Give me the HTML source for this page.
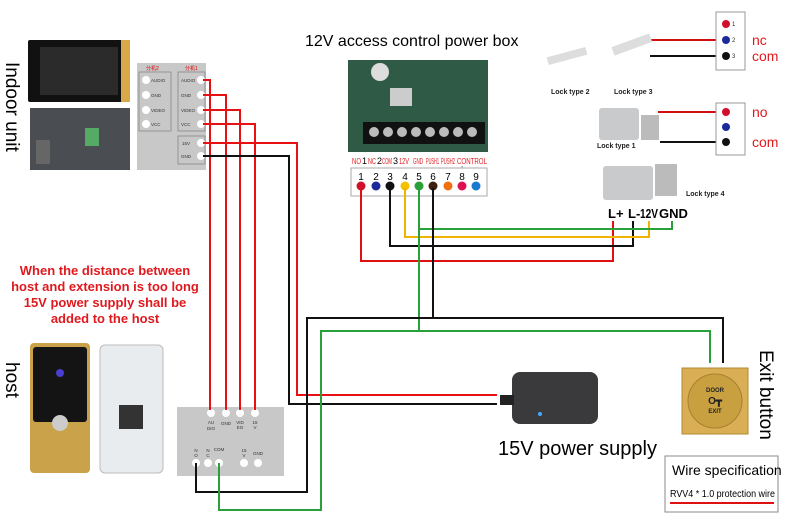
<!DOCTYPE html>
<html><head><meta charset="utf-8"><style>
html,body{margin:0;padding:0;background:#fff;}
svg{display:block;font-family:"Liberation Sans",sans-serif;}
</style></head><body>
<svg width="790" height="532" viewBox="0 0 790 532" xmlns="http://www.w3.org/2000/svg">
<rect width="790" height="532" fill="#fff"/>
<!-- Indoor unit -->
<text transform="translate(6,62) rotate(90)" font-size="19" fill="#000">Indoor unit</text>
<rect x="28" y="40" width="102" height="62" rx="2" fill="#111"/>
<rect x="40" y="47" width="78" height="48" fill="#2b2b2b"/>
<rect x="121" y="40" width="9" height="62" fill="#d9a84a"/>
<rect x="30" y="108" width="100" height="62" fill="#4a4d52"/>
<rect x="36" y="140" width="14" height="24" fill="#666"/>
<rect x="85" y="128" width="14" height="18" fill="#5a6"/>
<!-- indoor panel -->
<rect x="137" y="63" width="69" height="107" fill="#c8c8c8"/>
<rect x="139" y="72" width="32" height="59" fill="none" stroke="#888" stroke-width="0.8"/>
<rect x="178" y="72" width="27" height="59" fill="none" stroke="#888" stroke-width="0.8"/>
<rect x="178" y="136" width="27" height="28" fill="none" stroke="#888" stroke-width="0.8"/>
<text x="146" y="70" font-size="5" fill="#d00">分机2</text><text x="185" y="70" font-size="5" fill="#d00">分机1</text>
<g fill="#fff"><circle cx="146" cy="80" r="4"/><circle cx="146" cy="95" r="4"/><circle cx="146" cy="110" r="4"/><circle cx="146" cy="124" r="4"/>
<circle cx="201" cy="80" r="4"/><circle cx="201" cy="95" r="4"/><circle cx="201" cy="110" r="4"/><circle cx="201" cy="124" r="4"/><circle cx="201" cy="143" r="4"/><circle cx="201" cy="156" r="4"/></g>
<g font-size="4.5" fill="#333"><text x="151" y="82">AUDIO</text><text x="151" y="97">GND</text><text x="151" y="112">VIDEO</text><text x="151" y="126">VCC</text>
<text x="181" y="82">AUDIO</text><text x="181" y="97">GND</text><text x="181" y="112">VIDEO</text><text x="181" y="126">VCC</text><text x="182" y="145">15V</text><text x="181" y="158">GND</text></g>
<!-- red note -->
<g font-size="13" fill="#e0191e" text-anchor="middle" font-weight="bold"><text x="105" y="275">When the distance between</text><text x="105" y="291">host and extension is too long</text><text x="105" y="307">15V power supply shall be</text><text x="105" y="323">added to the host</text></g>
<!-- host -->
<text transform="translate(6,362) rotate(90)" font-size="19" fill="#000">host</text>
<rect x="30" y="343" width="60" height="130" rx="4" fill="#c9a24a"/>
<rect x="33" y="347" width="54" height="75" rx="3" fill="#141414"/>
<circle cx="60" cy="373" r="4" fill="#4a3fd0"/>
<circle cx="60" cy="423" r="8" fill="#ccc"/>
<rect x="100" y="345" width="63" height="128" rx="5" fill="#e8ecef" stroke="#bbb"/>
<rect x="119" y="405" width="24" height="24" fill="#333"/>
<!-- host panel -->
<rect x="177" y="407" width="107" height="69" fill="#c8c8c8"/>
<g fill="#fff"><circle cx="211" cy="413" r="4"/><circle cx="226" cy="413" r="4"/><circle cx="240" cy="413" r="4"/><circle cx="255" cy="413" r="4"/>
<circle cx="196" cy="463" r="4"/><circle cx="208" cy="463" r="4"/><circle cx="219" cy="463" r="4"/><circle cx="244" cy="463" r="4"/><circle cx="258" cy="463" r="4"/></g>
<g font-size="4.5" fill="#333" text-anchor="middle"><text x="211" y="424">AU</text><text x="211" y="430">DIO</text><text x="226" y="425">GND</text><text x="240" y="424">VID</text><text x="240" y="429">EO</text><text x="255" y="424">15</text><text x="255" y="429">V</text>
<text x="196" y="452">N</text><text x="196" y="457">O</text><text x="208" y="452">N</text><text x="208" y="457">C</text><text x="219" y="451">COM</text><text x="244" y="452">15</text><text x="244" y="457">V</text><text x="258" y="455">GND</text></g>
<!-- power box -->
<text x="305" y="46" font-size="16" fill="#000">12V access control power box</text>
<rect x="348" y="60" width="140" height="92" fill="#2f5a45"/>
<circle cx="380" cy="72" r="9" fill="#ddd"/>
<rect x="390" y="88" width="22" height="18" fill="#ccc"/>
<rect x="363" y="122" width="122" height="22" fill="#111"/>
<g fill="#bbb"><circle cx="374" cy="132" r="5"/><circle cx="388" cy="132" r="5"/><circle cx="402" cy="132" r="5"/><circle cx="416" cy="132" r="5"/><circle cx="430" cy="132" r="5"/><circle cx="444" cy="132" r="5"/><circle cx="458" cy="132" r="5"/><circle cx="472" cy="132" r="5"/></g>
<g font-size="8.5" fill="#e0191e" lengthAdjust="spacingAndGlyphs">
<text x="352" y="164" textLength="9" lengthAdjust="spacingAndGlyphs">NO</text>
<text x="362" y="164" font-size="9" fill="#000">1</text>
<text x="368" y="164" textLength="8" lengthAdjust="spacingAndGlyphs">NC</text>
<text x="377" y="164" font-size="9" fill="#000">2</text>
<text x="382" y="164" textLength="10" lengthAdjust="spacingAndGlyphs">COM</text>
<text x="393" y="164" font-size="9" fill="#000">3</text>
<text x="399" y="164" textLength="10" lengthAdjust="spacingAndGlyphs">12V</text>
<text x="413" y="164" textLength="10" lengthAdjust="spacingAndGlyphs">GND</text>
<text x="426" y="164" textLength="13" lengthAdjust="spacingAndGlyphs">PUSH1</text>
<text x="441" y="164" textLength="14" lengthAdjust="spacingAndGlyphs">PUSH2</text>
<text x="457" y="164" textLength="30" lengthAdjust="spacingAndGlyphs">CONTROL</text>
</g>
<text x="460" y="170" font-size="7" fill="#000">+</text><text x="474" y="170" font-size="7" fill="#000">−</text>
<rect x="351" y="168" width="136" height="28" fill="#fff" stroke="#aaa"/>
<g font-size="10" fill="#000" text-anchor="middle"><text x="361" y="180">1</text><text x="376" y="180">2</text><text x="390" y="180">3</text><text x="405" y="180">4</text><text x="419" y="180">5</text><text x="433" y="180">6</text><text x="448" y="180">7</text><text x="462" y="180">8</text><text x="476" y="180">9</text></g>
<circle cx="361" cy="186" r="4.5" fill="#d0102a"/><circle cx="376" cy="186" r="4.5" fill="#1a2a9a"/><circle cx="390" cy="186" r="4.5" fill="#111"/><circle cx="405" cy="186" r="4.5" fill="#f5c000"/><circle cx="419" cy="186" r="4.5" fill="#2aa03a"/><circle cx="433" cy="186" r="4.5" fill="#3a2010"/><circle cx="448" cy="186" r="4.5" fill="#f07010"/><circle cx="462" cy="186" r="4.5" fill="#e01050"/><circle cx="476" cy="186" r="4.5" fill="#1a7ad0"/>
<!-- wires -->
<g fill="none" stroke-width="2">
<path d="M203 80H210V410M203 95H226V410M203 110H240V410M203 124H255V410" stroke="#e81010"/>
<path d="M203 143H297V395H497" stroke="#e81010"/>
<path d="M203 156H289V404H497" stroke="#111"/>
<path d="M361 188V261H613V221" stroke="#e01010"/>
<path d="M390 188V246H633V221" stroke="#111"/>
<path d="M405 188V237H649V221" stroke="#f0b400"/>
<path d="M419 188V331M419 229H672V221" stroke="#2aa03a"/>
<path d="M433 188V318" stroke="#111"/>
<path d="M196 463V492H307V318H723V363" stroke="#111"/>
<path d="M219 463V510H321V331H710V363" stroke="#2aa03a"/>
<path d="M645 40H726" stroke="#d01010"/><path d="M650 56H726" stroke="#111"/>
<path d="M658 112H726" stroke="#d01010"/><path d="M660 142H726" stroke="#111"/>
</g>
<!-- locks -->
<rect x="716" y="12" width="29" height="58" fill="#fff" stroke="#999"/>
<circle cx="726" cy="24" r="4" fill="#d0102a"/><circle cx="726" cy="40" r="4" fill="#1a2a9a"/><circle cx="726" cy="56" r="4" fill="#111"/>
<g font-size="6" fill="#333"><text x="732" y="26">1</text><text x="732" y="42">2</text><text x="732" y="58">3</text><text x="732" y="114">1</text><text x="732" y="129">2</text><text x="732" y="144">3</text></g>
<text x="752" y="45" font-size="14" fill="#e0191e">nc</text><text x="752" y="61" font-size="14" fill="#e0191e">com</text>
<rect x="716" y="103" width="29" height="52" fill="#fff" stroke="#999"/>
<circle cx="726" cy="112" r="4" fill="#d0102a"/><circle cx="726" cy="127" r="4" fill="#1a2a9a"/><circle cx="726" cy="142" r="4" fill="#111"/>
<text x="752" y="117" font-size="14" fill="#e0191e">no</text><text x="752" y="147" font-size="14" fill="#e0191e">com</text>
<rect x="547" y="52" width="40" height="8" fill="#ddd" transform="rotate(-15 567 56)"/>
<rect x="612" y="40" width="40" height="9" fill="#ddd" transform="rotate(-20 632 45)"/>
<g font-size="7" font-weight="bold" fill="#222"><text x="551" y="94">Lock type 2</text><text x="614" y="94">Lock type 3</text><text x="597" y="148">Lock type 1</text><text x="686" y="196">Lock type 4</text></g>
<rect x="599" y="108" width="40" height="32" rx="3" fill="#c8cacc"/><rect x="641" y="115" width="18" height="25" fill="#bbb"/>
<rect x="603" y="166" width="50" height="34" rx="3" fill="#c8cacc"/><rect x="655" y="164" width="22" height="32" fill="#bbb"/>
<g font-size="13" font-weight="bold" fill="#000"><text x="608" y="218">L+</text><text x="628" y="218">L-</text><text x="640" y="218" textLength="18" lengthAdjust="spacingAndGlyphs">12V</text><text x="659" y="218">GND</text></g>
<!-- power supply -->
<rect x="512" y="372" width="86" height="52" rx="8" fill="#3a3a3c"/>
<rect x="500" y="395" width="14" height="10" fill="#222"/>
<circle cx="540" cy="414" r="2" fill="#4af"/>
<text x="498" y="455" font-size="20" fill="#000">15V power supply</text>
<!-- exit button -->
<rect x="682" y="368" width="66" height="66" fill="#d9ae55" stroke="#b08a30"/>
<circle cx="715" cy="401" r="27" fill="#c9a040" stroke="#a88030"/>
<text x="715" y="392" font-size="6" font-weight="bold" text-anchor="middle" fill="#222">DOOR</text>
<text x="715" y="404" font-size="10" font-weight="bold" text-anchor="middle" fill="#222">O┳</text>
<text x="715" y="413" font-size="6" font-weight="bold" text-anchor="middle" fill="#222">EXIT</text>
<text transform="translate(760,350) rotate(90)" font-size="19" fill="#000">Exit button</text>
<rect x="665" y="456" width="113" height="56" fill="#fff" stroke="#888"/>
<text x="672" y="475" font-size="14" fill="#000">Wire specification</text>
<text x="670" y="497" font-size="10" fill="#000" textLength="105" lengthAdjust="spacingAndGlyphs">RVV4 * 1.0 protection wire</text>
<line x1="670" y1="503" x2="774" y2="503" stroke="#e01010" stroke-width="2"/>
</svg>
</body></html>
